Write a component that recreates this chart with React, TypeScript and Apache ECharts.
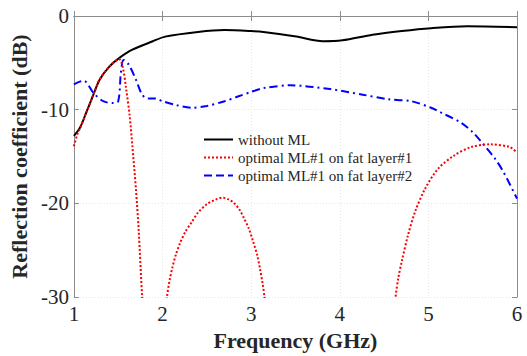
import React, { useEffect, useRef } from "react";
import * as echarts from "echarts";

const xTicks = [1, 2, 3, 4, 5, 6];
const yTicks = [0, -10, -20, -30];

const noMlFreq = [1.0, 1.07, 1.14, 1.22, 1.29, 1.4, 1.51, 1.66, 1.89, 2.03, 2.4, 2.7, 3.0, 3.14, 3.51, 3.81, 4.03, 4.37, 4.7, 5.03, 5.44, 6.0];
const noMlDb = [-12.8, -11.9, -10.3, -8.4, -6.8, -5.4, -4.5, -3.6, -2.7, -2.2, -1.7, -1.5, -1.6, -1.7, -2.2, -2.7, -2.6, -2.0, -1.6, -1.3, -1.1, -1.2];

// null marks where the curve dips far below the -30 dB floor (out of view)
const fat1Freq = [1.0, 1.04, 1.07, 1.14, 1.22, 1.29, 1.4, 1.51, 1.55, 1.59, 1.63, 1.66, 1.7, 1.73, 1.77, 1.79, 1.9, 2.03, 2.05, 2.08, 2.11, 2.15, 2.2, 2.26, 2.33, 2.4, 2.5, 2.6, 2.68, 2.75, 2.81, 2.87, 2.92, 2.97, 3.02, 3.07, 3.1, 3.13, 3.15, 3.17, 4.0, 4.61, 4.63, 4.66, 4.7, 4.77, 4.85, 4.96, 5.11, 5.29, 5.48, 5.7, 5.92, 6.0];
const fat1Db = [-13.9, -12.6, -12.0, -10.3, -8.4, -6.8, -5.4, -4.6, -5.4, -7.8, -10.7, -13.9, -18.5, -22.7, -30, -33, null, -32, -30, -28.2, -26.9, -25.5, -24.2, -23.0, -22.0, -21.0, -20.1, -19.6, -19.4, -19.6, -20.0, -20.7, -21.6, -22.6, -24.0, -25.6, -27.0, -28.6, -30, -32, null, -32.5, -30, -28.0, -26.2, -23.4, -20.9, -18.5, -16.3, -14.9, -14.0, -13.7, -14.0, -14.6];

const fat2Freq = [1.0, 1.11, 1.22, 1.33, 1.44, 1.5, 1.53, 1.56, 1.62, 1.7, 1.77, 1.83, 1.92, 2.0, 2.15, 2.33, 2.5, 2.7, 2.85, 3.0, 3.14, 3.44, 3.89, 4.26, 4.55, 4.81, 5.03, 5.14, 5.37, 5.5, 5.62, 5.75, 5.85, 6.0];
const fat2Db = [-7.3, -6.9, -8.2, -9.1, -9.3, -9.1, -6.1, -4.7, -5.2, -6.8, -8.4, -8.8, -8.8, -9.1, -9.5, -9.8, -9.6, -9.1, -8.6, -8.1, -7.7, -7.4, -7.8, -8.4, -8.9, -9.1, -9.8, -10.3, -11.4, -12.4, -13.7, -15.2, -16.7, -19.5];

const seriesNames = ["without ML", "optimal ML#1 on fat layer#1", "optimal ML#1 on fat layer#2"];

const zip = (xs: number[], ys: (number | null)[]) => xs.map((x, i) => [x, ys[i] === null ? "-" : ys[i]]);

const FONT = "Liberation Serif";

export default function App() {
  const ref = useRef<HTMLDivElement>(null);
  useEffect(() => {
    if (!ref.current) return;
    const chart = echarts.init(ref.current, undefined, { renderer: "svg" });
    const axisLine = { show: true, lineStyle: { color: "#8c8c8c", width: 1 } };
    const splitLine = { show: true, lineStyle: { color: "#e6e6e6", type: [1, 2] as any, width: 1 } };
    const tick = { show: true, inside: true, length: 5, lineStyle: { color: "#8c8c8c" } };
    chart.setOption({
      animation: false,
      backgroundColor: "#ffffff",
      textStyle: { fontFamily: FONT },
      grid: { left: 67, right: 10, top: 16, bottom: 57, containLabel: false },
      legend: {
        orient: "vertical",
        left: 203,
        top: 132,
        padding: 0,
        itemWidth: 29,
        itemHeight: 10,
        itemGap: 3,
        itemStyle: { opacity: 0 },
        textStyle: { fontFamily: FONT, fontSize: 15, lineHeight: 15, color: "#262626" },
        data: [
          { name: seriesNames[0] },
          { name: seriesNames[1] },
          { name: seriesNames[2], lineStyle: { type: "dashed", dashOffset: 0 } },
        ],
      },
      xAxis: [
        {
          type: "value",
          min: 1,
          max: 6,
          interval: 1,
          position: "bottom",
          axisLine,
          axisTick: tick,
          axisLabel: {
            fontFamily: FONT,
            fontSize: 21,
            color: "#262626",
            margin: 6,
            formatter: (v: number) => (xTicks.includes(v) ? String(v) : ""),
          },
          splitLine,
          name: "Frequency (GHz)",
          nameLocation: "middle",
          nameGap: 32,
          nameTextStyle: { fontFamily: FONT, fontSize: 22, fontWeight: "bold", color: "#262626" },
        },
        {
          type: "value",
          min: 1,
          max: 6,
          interval: 1,
          position: "top",
          axisLine,
          axisTick: tick,
          axisLabel: { show: false },
          splitLine: { show: false },
        },
      ],
      yAxis: [
        {
          type: "value",
          min: -30,
          max: 0,
          interval: 10,
          position: "left",
          axisLine,
          axisTick: tick,
          axisLabel: {
            fontFamily: FONT,
            fontSize: 21,
            color: "#262626",
            margin: 5,
            formatter: (v: number) => (yTicks.includes(v) ? String(v) : ""),
          },
          splitLine,
          name: "Reflection coefficient (dB)",
          nameLocation: "middle",
          nameGap: 37,
          nameTextStyle: { fontFamily: FONT, fontSize: 22, fontWeight: "bold", color: "#262626" },
        },
        {
          type: "value",
          min: -30,
          max: 0,
          interval: 10,
          position: "right",
          axisLine,
          axisTick: tick,
          axisLabel: { show: false },
          splitLine: { show: false },
        },
      ],
      series: [
        {
          name: seriesNames[0],
          type: "line",
          data: zip(noMlFreq, noMlDb),
          symbol: "none",
          smooth: 0.3,
          clip: true,
          lineStyle: { color: "#000000", width: 2 },
          itemStyle: { color: "#000000" },
          z: 3,
        },
        {
          name: seriesNames[1],
          type: "line",
          data: zip(fat1Freq, fat1Db),
          symbol: "none",
          smooth: 0.3,
          connectNulls: false,
          clip: true,
          lineStyle: { color: "#ff0000", width: 2, type: [2, 2] as any },
          itemStyle: { color: "#ff0000" },
          z: 4,
        },
        {
          name: seriesNames[2],
          type: "line",
          data: zip(fat2Freq, fat2Db),
          symbol: "none",
          smooth: 0.3,
          clip: true,
          lineStyle: { color: "#0000ff", width: 2, type: [8, 4, 2, 4] as any },
          itemStyle: { color: "#0000ff" },
          z: 2,
        },
      ],
    });
    return () => chart.dispose();
  }, []);
  return (
    <div
      ref={ref}
      style={{ position: "absolute", left: 0, top: 0, width: 527, height: 356 }}
    />
  );
}
